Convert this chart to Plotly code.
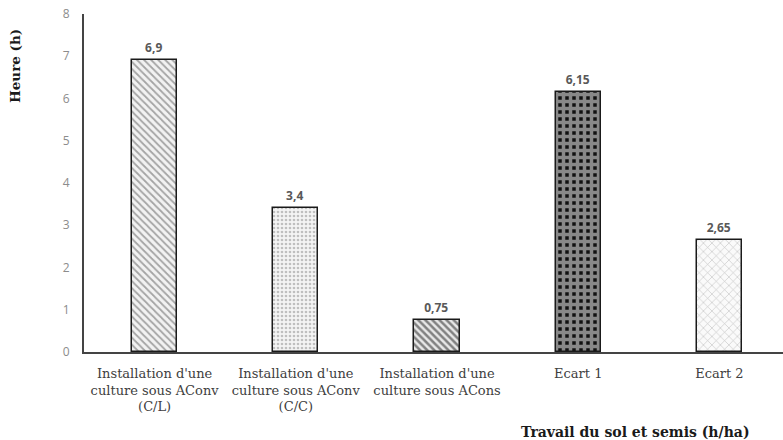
import plotly.graph_objects as go

# Temps de travail du sol et semis, en heures par hectare
categories = [
    "Installation d'une<br>culture sous AConv<br>(C/L)",
    "Installation d'une<br>culture sous AConv<br>(C/C)",
    "Installation d'une<br>culture sous ACons",
    "Ecart 1",
    "Ecart 2",
]
values = [6.9, 3.4, 0.75, 6.15, 2.65]
y_ticks = [0, 1, 2, 3, 4, 5, 6, 7, 8]

# Motif de remplissage de chaque barre (shape, couleur du motif, fond, taille, densité)
patterns = [
    dict(shape="\\", fgcolor="#555555", bgcolor="#f2f2f2", size=5, solidity=0.35),
    dict(shape=".", fgcolor="#8a8a8a", bgcolor="#f4f4f4", size=4, solidity=0.35),
    dict(shape="\\", fgcolor="#1a1a1a", bgcolor="#e8e8e8", size=5, solidity=0.5),
    dict(shape="+", fgcolor="#ffffff", bgcolor="#111111", size=7, solidity=0.75),
    dict(shape="x", fgcolor="#8c8c8c", bgcolor="#fafafa", size=6, solidity=0.2),
]

labels = [str(v).replace(".", ",") for v in values]

SERIF = "DejaVu Serif"

fig = go.Figure()
for i, (cat, val, lab, pat) in enumerate(zip(categories, values, labels, patterns)):
    fig.add_trace(go.Bar(
        x=[i],
        y=[val],
        width=0.32,
        text=[lab],
        textposition="outside",
        cliponaxis=False,
        textfont=dict(family="Open Sans", size=12, color="#595959", weight="bold"),
        marker=dict(
            color=pat["bgcolor"],
            pattern=pat,
            line=dict(color="#1a1a1a", width=1.5),
        ),
        showlegend=False,
        hoverinfo="skip",
    ))

fig.update_layout(
    width=783,
    height=440,
    margin=dict(l=84, r=0, t=14, b=88),
    plot_bgcolor="white",
    paper_bgcolor="white",
    bargap=0,
    xaxis=dict(
        range=[-0.5, 4.45],
        tickmode="array",
        tickvals=list(range(len(categories))),
        ticktext=categories,
        tickfont=dict(family=SERIF, size=13, color="#404040"),
        ticklabelstandoff=8,
        showline=True,
        linecolor="#444444",
        linewidth=2,
        ticks="",
        showgrid=False,
        zeroline=False,
    ),
    yaxis=dict(
        range=[0, 8],
        tickmode="array",
        tickvals=y_ticks,
        ticktext=[str(t) for t in y_ticks],
        tickfont=dict(family="Open Sans", size=12, color="#8c8c8c"),
        showline=True,
        linecolor="#444444",
        linewidth=2,
        ticks="",
        ticklabelstandoff=10,
        showgrid=False,
        zeroline=False,
    ),
    annotations=[
        dict(
            text="Heure (h)",
            xref="paper", yref="paper",
            x=-84 / 699 + 15 / 699, y=(352 - 66) / 338,
            xanchor="center", yanchor="middle",
            textangle=-90,
            showarrow=False,
            font=dict(family=SERIF, size=13.5, color="#1a1a1a", weight="bold"),
        ),
        dict(
            text="Travail du sol et semis (h/ha)",
            xref="paper", yref="paper",
            x=(635 - 84) / 699, y=-(432 - 352) / 338,
            xanchor="center", yanchor="middle",
            showarrow=False,
            font=dict(family=SERIF, size=14, color="#1a1a1a", weight="bold"),
        ),
    ],
)

fig.write_html("out.html")
